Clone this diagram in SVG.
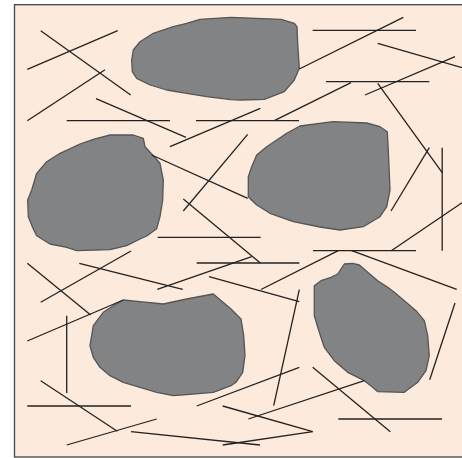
<svg xmlns="http://www.w3.org/2000/svg" width="462" height="458" viewBox="0 0 462 458">
<style>
.frame{fill:#fceadc;stroke:#444;stroke-width:1.3}
.blob{fill:#828385;stroke:#555;stroke-width:1.3;stroke-linejoin:round}
.fib line{stroke:#222;stroke-width:1.3;stroke-linecap:butt}
</style>
<rect class="frame" x="14.5" y="4.7" width="460" height="452.3"/>
<g id="blob1"><path class="blob" d="M131.7,60 L133.3,50 L140,41.7 L153.3,33.3 L173.3,26.7 L186.7,23.3 L200,19.3 L231,17.3 L281,19.3 L294.3,23.3 L297,26.7 L297.7,43.3 L299.3,68.3 L294.3,80 L284.3,91.7 L264.3,99.3 L241,100 L231,99.6 L206.7,96.7 L186.7,93.3 L166.7,90 L150,85 L136.7,78.3 L132.3,71.7 Z"/></g>
<g id="blob2"><path class="blob" d="M110,135 L133.3,135 L143.3,138.3 L145,146.7 L151.7,154 L160,163.3 L163.3,180 L162.7,200 L160,216.7 L156.7,228.7 L146.7,236 L140,239 L126.7,245.7 L110,249.7 L76.7,250.7 L66.7,247.3 L50,244 L36.7,235.7 L33.3,229 L28.3,216.7 L27.7,200 L31.7,190 L36.7,173.3 L46.7,161.7 L60,153.3 L80,144 L93.3,139.3 Z"/></g>
<g id="blob3"><path class="blob" d="M256.7,155 L266.7,146.7 L286.7,133.3 L300,126 L333,121.7 L366.7,123 L380,126.7 L387.3,131.7 L388.3,150 L390,190 L386.7,206.7 L380,216.7 L363.3,226.7 L340,230 L320,227 L293.3,221.7 L270,213.3 L256.7,205 L248.3,196.7 L248.3,176.7 L251.7,166.7 Z"/></g>
<g id="blob4"><path class="blob" d="M123.3,300 L140,301.7 L163.3,304 L186.7,299 L213.3,294 L231,309 L241,319 L243.7,335.7 L245,355.7 L242.7,372.3 L236,382.3 L231,385.7 L213.3,392.3 L186.7,394.7 L173.3,395.7 L156.7,392.3 L140,387.3 L123.3,382.3 L110,375.7 L100,367.3 L93.3,357.3 L90,345.7 L93.3,325.7 L103.3,312.3 L113.3,305.7 Z"/></g>
<g id="blob5"><path class="blob" d="M344.3,264 L352.7,263.3 L359.3,265 L367.7,272.3 L377.7,280.7 L387.7,287.3 L394.3,292.3 L404.3,300.7 L416,310.7 L424.3,320.7 L427.7,335.7 L429.3,355.7 L426,370.7 L417.7,382.3 L404.3,392.3 L377.7,391.7 L372.7,387.3 L364.3,380.7 L347.7,372.3 L334.3,360.7 L324.3,347.3 L319.3,332.3 L314.3,315.7 L314.3,285.7 L321,280.7 L331,277.3 L337.7,274 L341,269 Z"/></g>
<g id="fibres" class="fib">
<line x1="40.7" y1="30.7" x2="130.7" y2="95"/>
<line x1="27.3" y1="69.3" x2="117.7" y2="30.7"/>
<line x1="27.3" y1="120.7" x2="105" y2="69.7"/>
<line x1="66.7" y1="120.7" x2="170" y2="120.7"/>
<line x1="96" y1="98.7" x2="186" y2="137.3"/>
<line x1="196" y1="120.7" x2="299" y2="120.7"/>
<line x1="170" y1="146.7" x2="260.3" y2="108.3"/>
<line x1="151.7" y1="155" x2="247.7" y2="198.3"/>
<line x1="247.7" y1="134.3" x2="183.3" y2="211"/>
<line x1="183.3" y1="199" x2="260.3" y2="263"/>
<line x1="157.7" y1="237.3" x2="260.7" y2="237.3"/>
<line x1="196.7" y1="263" x2="299.3" y2="263"/>
<line x1="251.7" y1="256.7" x2="157.3" y2="289.3"/>
<line x1="79.3" y1="263.3" x2="182.7" y2="289.3"/>
<line x1="209" y1="276.7" x2="299.3" y2="301.7"/>
<line x1="299.3" y1="289.7" x2="273.7" y2="405.7"/>
<line x1="261" y1="289.5" x2="338.3" y2="250.7"/>
<line x1="313" y1="250.7" x2="416" y2="250.7"/>
<line x1="351.7" y1="250.7" x2="456.7" y2="289.3"/>
<line x1="391.3" y1="250.7" x2="462" y2="202.7"/>
<line x1="442.2" y1="147.7" x2="442.2" y2="250.7"/>
<line x1="377.7" y1="83.3" x2="442.2" y2="172.7"/>
<line x1="429.3" y1="147.7" x2="391" y2="211"/>
<line x1="312.7" y1="30.3" x2="416" y2="30.3"/>
<line x1="299.3" y1="69" x2="403.3" y2="17.3"/>
<line x1="377.7" y1="43.3" x2="462" y2="67.7"/>
<line x1="326" y1="81.7" x2="429.3" y2="81.7"/>
<line x1="365" y1="95" x2="455" y2="56.7"/>
<line x1="351" y1="82.7" x2="274.3" y2="120.7"/>
<line x1="27.3" y1="263.3" x2="90.7" y2="315"/>
<line x1="40.7" y1="302.3" x2="131" y2="251"/>
<line x1="27.3" y1="341" x2="123.3" y2="300"/>
<line x1="66.7" y1="315.7" x2="66.7" y2="393"/>
<line x1="40.7" y1="380.7" x2="117.3" y2="431.3"/>
<line x1="27.3" y1="406" x2="131" y2="406"/>
<line x1="66.7" y1="445" x2="156.7" y2="419"/>
<line x1="131" y1="431.7" x2="260" y2="445"/>
<line x1="222.7" y1="445" x2="312.7" y2="431.7"/>
<line x1="222.7" y1="406" x2="312.7" y2="431.7"/>
<line x1="196.7" y1="406" x2="299.3" y2="367.3"/>
<line x1="248.3" y1="419" x2="364.3" y2="380.7"/>
<line x1="312.7" y1="367.3" x2="390.3" y2="431.7"/>
<line x1="338.3" y1="419" x2="442" y2="419"/>
<line x1="455" y1="303" x2="429.7" y2="379.7"/>
</g>
</svg>
